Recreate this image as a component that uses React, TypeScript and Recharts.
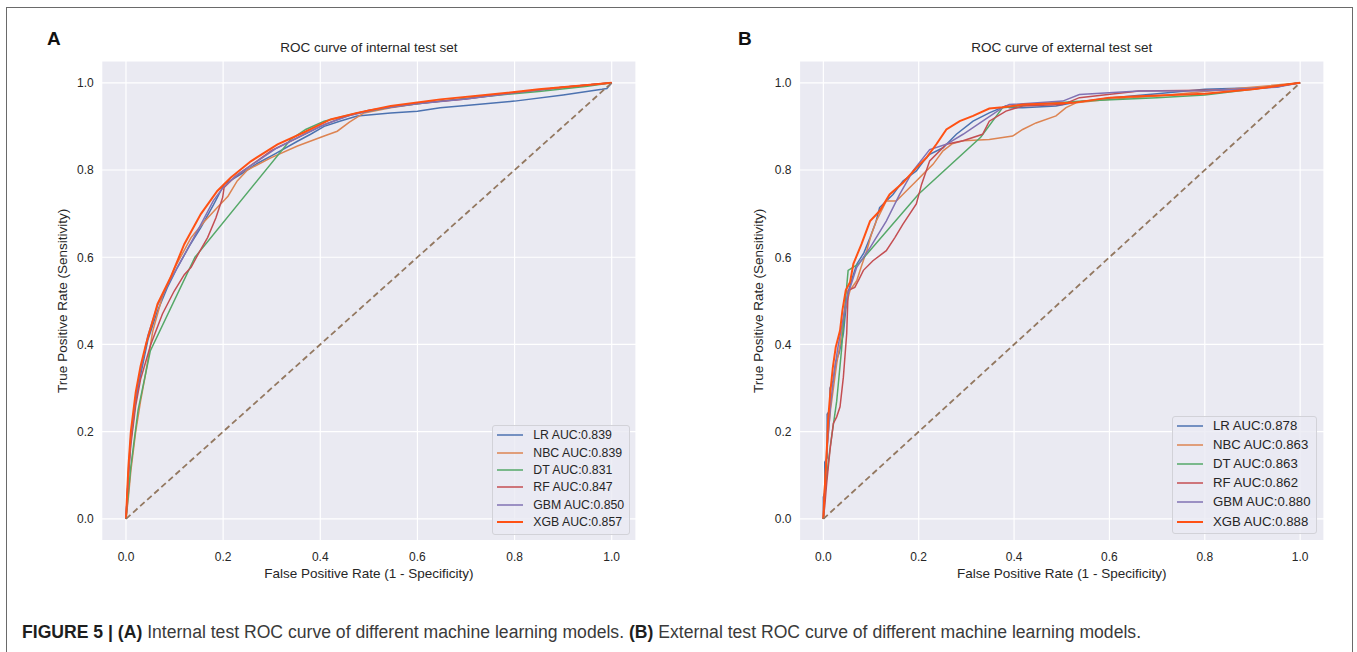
import React from 'react';
import { LineChart, Line, XAxis, YAxis, CartesianGrid, Legend } from 'recharts';

const FONT = '"Liberation Sans", Arial, Helvetica, sans-serif';

const TICKS = [0, 0.2, 0.4, 0.6, 0.8, 1.0];
const DOMAIN: [number, number] = [-0.05, 1.05];

const MODELS = ['LR', 'NBC', 'DT', 'RF', 'GBM', 'XGB'];
const COLORS = ['#4C72B0', '#DD8452', '#55A868', '#C44E52', '#8172B3', '#FF5114'];
const WIDTHS = [1.5, 1.5, 1.5, 1.5, 1.5, 2];
const AUC_INTERNAL = ['0.839', '0.839', '0.831', '0.847', '0.850', '0.857'];
const AUC_EXTERNAL = ['0.878', '0.863', '0.863', '0.862', '0.880', '0.888'];

const DIAG: [number, number][] = [[0, 0], [1, 1]];

// Internal test set (FPR, TPR)
const INT_LR: [number, number][] = [[0,0],[0.005,0.1],[0.01,0.18],[0.02,0.27],[0.03,0.33],[0.045,0.41],[0.065,0.477],[0.085,0.53],[0.106,0.577],[0.13,0.625],[0.154,0.668],[0.18,0.72],[0.202,0.767],[0.236,0.79],[0.27,0.815],[0.305,0.836],[0.353,0.866],[0.38,0.882],[0.408,0.9],[0.44,0.912],[0.476,0.924],[0.545,0.931],[0.6,0.935],[0.647,0.943],[0.7,0.948],[0.8,0.958],[0.9,0.972],[0.98,0.985],[0.99,0.987],[1,1]];
const INT_NBC: [number, number][] = [[0,0],[0.005,0.05],[0.01,0.11],[0.02,0.2],[0.03,0.27],[0.04,0.33],[0.055,0.43],[0.075,0.51],[0.1,0.575],[0.134,0.645],[0.16,0.68],[0.188,0.714],[0.21,0.74],[0.229,0.775],[0.25,0.8],[0.298,0.828],[0.353,0.855],[0.408,0.878],[0.435,0.889],[0.46,0.91],[0.49,0.931],[0.545,0.943],[0.6,0.952],[0.7,0.964],[0.8,0.978],[0.9,0.99],[1,1]];
const INT_DT: [number, number][] = [[0,0],[0.01,0.12],[0.025,0.25],[0.05,0.385],[0.142,0.6],[0.339,0.87],[0.37,0.893],[0.408,0.912],[0.476,0.931],[0.55,0.945],[0.647,0.958],[0.75,0.97],[0.85,0.98],[0.95,0.992],[1,1]];
const INT_RF: [number, number][] = [[0,0],[0.005,0.1],[0.01,0.17],[0.02,0.26],[0.03,0.32],[0.051,0.4],[0.075,0.47],[0.099,0.522],[0.12,0.56],[0.134,0.577],[0.15,0.61],[0.168,0.645],[0.185,0.69],[0.199,0.737],[0.202,0.76],[0.225,0.785],[0.25,0.805],[0.3,0.845],[0.35,0.872],[0.4,0.9],[0.45,0.922],[0.5,0.937],[0.6,0.953],[0.7,0.963],[0.8,0.978],[0.9,0.99],[1,1]];
const INT_GBM: [number, number][] = [[0,0],[0.005,0.11],[0.01,0.19],[0.02,0.28],[0.03,0.34],[0.045,0.42],[0.065,0.49],[0.09,0.545],[0.12,0.605],[0.154,0.675],[0.18,0.73],[0.2,0.76],[0.23,0.79],[0.27,0.82],[0.31,0.85],[0.36,0.878],[0.41,0.905],[0.46,0.925],[0.52,0.94],[0.6,0.952],[0.7,0.963],[0.8,0.977],[0.9,0.99],[1,1]];
const INT_XGB: [number, number][] = [[0,0],[0.005,0.12],[0.01,0.2],[0.02,0.29],[0.03,0.35],[0.041,0.4],[0.065,0.493],[0.092,0.554],[0.12,0.63],[0.154,0.699],[0.188,0.752],[0.216,0.783],[0.257,0.82],[0.312,0.859],[0.366,0.886],[0.421,0.916],[0.476,0.931],[0.545,0.947],[0.647,0.962],[0.75,0.973],[0.85,0.985],[0.95,0.995],[1,1]];

// External test set (FPR, TPR)
const EXT_LR: [number, number][] = [[0,0],[0,0.05],[0.003,0.06],[0.003,0.13],[0.008,0.14],[0.008,0.24],[0.014,0.25],[0.014,0.3],[0.021,0.318],[0.026,0.36],[0.033,0.38],[0.042,0.425],[0.047,0.48],[0.052,0.52],[0.06,0.55],[0.07,0.584],[0.085,0.61],[0.098,0.645],[0.11,0.68],[0.118,0.714],[0.146,0.744],[0.167,0.775],[0.195,0.798],[0.21,0.82],[0.223,0.836],[0.251,0.851],[0.279,0.882],[0.314,0.912],[0.348,0.931],[0.383,0.947],[0.39,0.943],[0.418,0.943],[0.488,0.947],[0.523,0.954],[0.6,0.965],[0.7,0.975],[0.8,0.985],[0.95,0.99],[0.97,0.995],[1,1]];
const EXT_NBC: [number, number][] = [[0,0],[0.003,0.08],[0.007,0.158],[0.015,0.25],[0.028,0.356],[0.035,0.4],[0.045,0.478],[0.056,0.524],[0.07,0.546],[0.08,0.58],[0.091,0.615],[0.1,0.65],[0.111,0.683],[0.132,0.729],[0.153,0.729],[0.174,0.752],[0.195,0.775],[0.216,0.798],[0.23,0.813],[0.251,0.844],[0.27,0.86],[0.293,0.867],[0.348,0.87],[0.397,0.878],[0.418,0.893],[0.446,0.908],[0.488,0.924],[0.509,0.943],[0.53,0.954],[0.6,0.962],[0.7,0.97],[0.85,0.985],[1,1]];
const EXT_DT: [number, number][] = [[0,0],[0.003,0.05],[0.007,0.098],[0.015,0.17],[0.028,0.27],[0.038,0.386],[0.045,0.485],[0.052,0.57],[0.073,0.584],[0.2,0.745],[0.33,0.875],[0.376,0.943],[0.46,0.952],[0.544,0.958],[0.7,0.966],[0.8,0.972],[0.9,0.985],[1,1]];
const EXT_RF: [number, number][] = [[0,0],[0.003,0.03],[0.007,0.082],[0.014,0.158],[0.021,0.219],[0.028,0.234],[0.035,0.257],[0.042,0.325],[0.049,0.425],[0.052,0.524],[0.066,0.531],[0.075,0.55],[0.084,0.57],[0.104,0.592],[0.132,0.615],[0.15,0.645],[0.167,0.676],[0.195,0.722],[0.206,0.767],[0.223,0.821],[0.258,0.859],[0.293,0.867],[0.334,0.882],[0.348,0.912],[0.383,0.935],[0.418,0.947],[0.502,0.95],[0.537,0.966],[0.662,0.981],[0.8,0.983],[0.9,0.985],[1,1]];
const EXT_GBM: [number, number][] = [[0,0],[0.003,0.07],[0.008,0.16],[0.015,0.26],[0.022,0.33],[0.03,0.39],[0.04,0.45],[0.05,0.51],[0.07,0.577],[0.098,0.622],[0.132,0.683],[0.16,0.744],[0.188,0.798],[0.223,0.847],[0.258,0.859],[0.293,0.882],[0.334,0.912],[0.376,0.943],[0.39,0.95],[0.502,0.958],[0.537,0.973],[0.662,0.981],[0.8,0.982],[0.95,0.99],[1,1]];
const EXT_XGB: [number, number][] = [[0,0],[0.002,0.052],[0.006,0.127],[0.01,0.227],[0.015,0.295],[0.02,0.348],[0.026,0.394],[0.035,0.432],[0.04,0.478],[0.047,0.524],[0.056,0.543],[0.063,0.585],[0.08,0.63],[0.098,0.683],[0.118,0.706],[0.139,0.744],[0.167,0.771],[0.195,0.805],[0.216,0.828],[0.237,0.859],[0.258,0.893],[0.286,0.912],[0.314,0.924],[0.348,0.941],[0.376,0.944],[0.418,0.95],[0.523,0.954],[0.6,0.966],[0.662,0.969],[0.8,0.975],[0.9,0.985],[1,1]];

const INTERNAL = [INT_LR, INT_NBC, INT_DT, INT_RF, INT_GBM, INT_XGB];
const EXTERNAL = [EXT_LR, EXT_NBC, EXT_DT, EXT_RF, EXT_GBM, EXT_XGB];

const toPts = (a: [number, number][]) => a.map(([x, y]) => ({ x, y }));

type LegendCfg = { left: number; top: number; w: number; h: number; first: number; step: number; lineX: number; lineW: number; textX: number; fs: number };

const modelIndex = (name: string) => MODELS.indexOf(String(name).split(' ')[0]);

const makeLegend = (cfg: LegendCfg) => (props: any) => {
  const payload = (props.payload || [])
    .filter((p: any) => p.type !== 'none' && modelIndex(p.value) >= 0)
    .slice()
    .sort((a: any, b: any) => modelIndex(a.value) - modelIndex(b.value));
  return (
    <div style={{ position: 'relative', width: cfg.w, height: cfg.h, boxSizing: 'border-box', border: '1px solid #d2d2d8', borderRadius: 3, background: 'rgba(234,234,242,0.8)', fontFamily: FONT }}>
      {payload.map((p: any, i: number) => (
        <div key={i} style={{ position: 'absolute', left: 0, top: cfg.first + i * cfg.step - 11, height: 20, width: '100%' }}>
          <svg style={{ position: 'absolute', left: cfg.lineX, top: 0 }} width={cfg.lineW} height={20}>
            <line x1={0} x2={cfg.lineW} y1={10} y2={10} stroke={p.color} strokeWidth={(p.payload && p.payload.strokeWidth) || 1.5} />
          </svg>
          <span style={{ position: 'absolute', left: cfg.textX, top: 0, lineHeight: '20px', fontSize: cfg.fs, color: '#262626', whiteSpace: 'nowrap' }}>{p.value}</span>
        </div>
      ))}
    </div>
  );
};

type PanelProps = {
  left: number; width: number; height: number;
  margin: { top: number; right: number; bottom: number; left: number };
  yWidth: number; xHeight: number;
  series: [number, number][][]; aucs: string[]; legend: LegendCfg;
};

const Panel = ({ left, width, height, margin, yWidth, xHeight, series, aucs, legend }: PanelProps) => (
  <div style={{ position: 'absolute', left, top: 0, width, height }}>
    <LineChart width={width} height={height} margin={margin}>
      <CartesianGrid fill="#EAEAF2" fillOpacity={1} stroke="#FFFFFF" strokeWidth={1.2} />
      <XAxis
        type="number" dataKey="x" domain={DOMAIN} ticks={TICKS} interval={0} allowDataOverflow
        tickFormatter={(v: number) => v.toFixed(1)} axisLine={false} tickLine={false} tickMargin={6}
        height={xHeight}
        tick={{ fill: '#262626', fontSize: 12, fontFamily: FONT }}
        label={{ value: 'False Positive Rate (1 - Specificity)', position: 'center', fill: '#262626', fontSize: 13.5, fontFamily: FONT }}
      />
      <YAxis
        type="number" domain={DOMAIN} ticks={TICKS} interval={0} allowDataOverflow
        tickFormatter={(v: number) => v.toFixed(1)} axisLine={false} tickLine={false}
        width={yWidth}
        tick={{ fill: '#262626', fontSize: 12, fontFamily: FONT }}
        label={{ value: 'True Positive Rate (Sensitivity)', position: 'center', angle: -90, fill: '#262626', fontSize: 13.5, fontFamily: FONT }}
      />
      {series.map((s, i) => (
        <Line key={MODELS[i]} data={toPts(s)} dataKey="y" type="linear" name={`${MODELS[i]} AUC:${aucs[i]}`}
          stroke={COLORS[i]} strokeWidth={WIDTHS[i]} dot={false} activeDot={false} isAnimationActive={false} />
      ))}
      <Line data={toPts(DIAG)} dataKey="y" type="linear" name="diag" legendType="none" stroke="#937860"
        strokeWidth={1.8} strokeDasharray="6 3.5" dot={false} activeDot={false} isAnimationActive={false} />
      <Legend layout="vertical" align="center" verticalAlign="middle" content={makeLegend(legend)}
        wrapperStyle={{ left: legend.left, top: legend.top, width: legend.w, height: legend.h }} />
    </LineChart>
  </div>
);

export default function App() {
  return (
    <div style={{ position: 'absolute', left: 0, top: 0, width: 1357, height: 652, overflow: 'hidden', background: '#fff', fontFamily: FONT }}>
      <div style={{ position: 'absolute', left: 6, top: 7, width: 1347, height: 720, border: '1.5px solid #6a6a6a', boxSizing: 'border-box' }} />
      <Panel
        left={0} width={680} height={620}
        margin={{ top: 61, right: 44, bottom: 14.7, left: 22.3 }}
        yWidth={79.4} xHeight={64.6}
        series={INTERNAL} aucs={AUC_INTERNAL}
        legend={{ left: 491.7, top: 425, w: 138.3, h: 110, first: 10.3, step: 17.3, lineX: 4, lineW: 26.6, textX: 40.6, fs: 12.3 }}
      />
      <Panel
        left={680} width={677} height={620}
        margin={{ top: 61, right: 33, bottom: 14.7, left: 36.5 }}
        yWidth={83} xHeight={64.6}
        series={EXTERNAL} aucs={AUC_EXTERNAL}
        legend={{ left: 491.7, top: 416, w: 145, h: 118, first: 10, step: 19.1, lineX: 4, lineW: 26.6, textX: 40.3, fs: 13.2 }}
      />
      <svg width={1357} height={652} style={{ position: 'absolute', left: 0, top: 0, pointerEvents: 'none' }}>
        <text x={47} y={45} fontFamily={FONT} fontWeight="bold" fontSize={19} fill="#111">A</text>
        <text x={738} y={45} fontFamily={FONT} fontWeight="bold" fontSize={19} fill="#111">B</text>
        <text x={368.9} y={52} textAnchor="middle" fontFamily={FONT} fontSize={13.5} fill="#262626">ROC curve of internal test set</text>
        <text x={1061.75} y={52} textAnchor="middle" fontFamily={FONT} fontSize={13.5} fill="#262626">ROC curve of external test set</text>
        <text x={22} y={638} fontFamily={FONT} fontSize={17.6} fill="#3a3a3a">
          <tspan fontWeight="bold" fill="#1e1e1e">FIGURE 5 | (A)</tspan>
          <tspan> Internal test ROC curve of different machine learning models. </tspan>
          <tspan fontWeight="bold" fill="#1e1e1e">(B)</tspan>
          <tspan> External test ROC curve of different machine learning models.</tspan>
        </text>
      </svg>
    </div>
  );
}
